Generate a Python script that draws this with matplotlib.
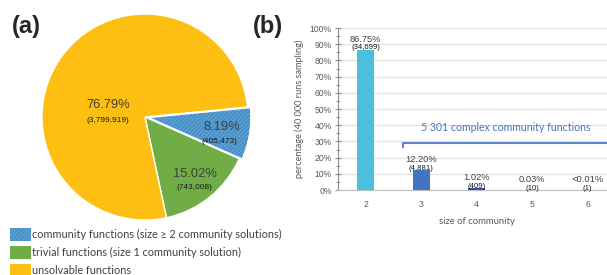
import numpy as np
import matplotlib.pyplot as plt
from matplotlib.patches import Rectangle, Wedge
from matplotlib.ticker import MultipleLocator, PercentFormatter

# ===============================================================
#  Data
# ===============================================================
# (a) pie: share of functions
pie_labels = ['community functions (size \u2265 2 community solutions)',
              'trivial functions (size 1 community solution)',
              'unsolvable functions']
pie_pct = [8.19, 15.02, 76.79]
pie_counts = ['(405,473)', '(743,008)', '(3,799,919)']
pie_colors = ['#4890c6', '#70ad47', '#fdbf12']
hatch_col = '#67aadb'

# (b) bars: size of community
sizes = [2, 3, 4, 5, 6]
bar_pct = [86.75, 12.20, 1.02, 0.03, 0.004]
bar_text = ['86.75%', '12.20%', '1.02%', '0.03%', '<0.01%']
bar_counts = ['(34,699)', '(4,881)', '(409)', '(10)', '(1)']
bar_colors = ['#4bbfdb', '#4472c4', '#2f55a0', '#b4c7e7', '#9dc3e6']
n_complex = '5 301 complex community functions'

num_font = ['Liberation Sans', 'DejaVu Sans']
txt_font = ['Lato', 'DejaVu Sans']
gray = '#595959'
plt.rcParams['hatch.linewidth'] = 0.6

fig = plt.figure(figsize=(6.07, 2.75), dpi=100)

# ===============================================================
#  (a) pie chart
# ===============================================================
ax1 = fig.add_axes([0.0522, 0.1625, 0.3733, 0.824])
wedges, _ = ax1.pie(pie_pct, colors=pie_colors, startangle=5.6, counterclock=False,
                    explode=[0.03, 0, 0], radius=1.0,
                    wedgeprops=dict(edgecolor='white', linewidth=1.0))
# fine hatch on the community wedge
w0 = wedges[0]
ax1.add_patch(Wedge(w0.center, w0.r, w0.theta1, w0.theta2, facecolor='none',
                    edgecolor=hatch_col, hatch='////////', linewidth=0))
ax1.add_patch(Wedge(w0.center, w0.r, w0.theta1, w0.theta2, facecolor='none',
                    edgecolor='white', linewidth=1.0))
ax1.set_xlim(-1.1, 1.1)
ax1.set_ylim(-1.1, 1.1)
ax1.set_aspect('equal')
ax1.axis('off')

pct_pos = [(0.75, -0.10), (0.485, -0.553), (-0.36, 0.117)]
cnt_pos = [(0.72, -0.233), (0.476, -0.68), (-0.36, -0.03)]
for i in range(len(pie_pct)):
    ax1.text(pct_pos[i][0], pct_pos[i][1], f'{pie_pct[i]:.2f}%', ha='center', va='center',
             fontsize=9.3, color='#404040', family=num_font)
    ax1.text(cnt_pos[i][0], cnt_pos[i][1], pie_counts[i], ha='center', va='center',
             fontsize=6, color='#1a1a1a', family=num_font)

# legend drawn by hand
for i in range(len(pie_labels)):
    yc = 234 + i*18
    fig.add_artist(Rectangle((10/607, 1-(yc+6.5)/275), 21/607, 13/275, transform=fig.transFigure,
                             facecolor=pie_colors[i], edgecolor=hatch_col if i == 0 else 'none',
                             hatch='////////' if i == 0 else None, linewidth=0))
    fig.text(32/607, 1-yc/275, pie_labels[i], ha='left', va='center', fontsize=7.8,
             color='#404040', family=txt_font)

fig.text(12/607, 1-27/275, '(a)', ha='left', va='center', fontsize=17, fontweight='bold',
         color='#262626', family=num_font)
fig.text(253/607, 1-27/275, '(b)', ha='left', va='center', fontsize=17, fontweight='bold',
         color='#262626', family=num_font)

# ===============================================================
#  (b) bar chart
# ===============================================================
ax2 = fig.add_axes([0.5568, 0.309, 0.457, 0.589])
vals = np.array(bar_pct)/100
ax2.bar(sizes, vals, width=0.31, color=bar_colors, zorder=3)
ax2.set_xlim(1.5, 6.5)
ax2.set_ylim(0, 1.0)
ax2.yaxis.set_major_locator(MultipleLocator(0.1))
ax2.yaxis.set_minor_locator(MultipleLocator(0.05))
ax2.yaxis.set_major_formatter(PercentFormatter(1.0, decimals=0))
ax2.set_xticks(sizes)
ax2.grid(True, axis='y', color='#e3e3e3', linewidth=0.9, zorder=0)
for s in ['top', 'right']:
    ax2.spines[s].set_visible(False)
ax2.spines['left'].set_color('#8c8c8c')
ax2.spines['bottom'].set_color('#bfbfbf')
ax2.tick_params(axis='y', which='major', direction='inout', length=5, color='#8c8c8c',
                labelsize=6.2, labelcolor=gray, pad=2)
ax2.tick_params(axis='y', which='minor', direction='inout', length=3, color='#8c8c8c')
ax2.tick_params(axis='x', length=0, labelsize=6.2, labelcolor=gray, pad=7)
for lab in ax2.get_yticklabels() + ax2.get_xticklabels():
    lab.set_family(num_font)

for i in range(len(sizes)):
    ax2.annotate(bar_text[i], (sizes[i], vals[i]), xytext=(0, 7.5), textcoords='offset points',
                 ha='center', va='center', fontsize=6.7, color='#404040', family=num_font)
    ax2.annotate(bar_counts[i], (sizes[i], vals[i]), xytext=(0, 1.2), textcoords='offset points',
                 ha='center', va='center', fontsize=5.6, color='#1a1a1a', family=num_font)

ax2.set_xlabel('size of community', fontsize=6.8, color=gray, family=txt_font, labelpad=6)
ax2.set_ylabel('percentage (40 000 runs sampling)', fontsize=6.6, color=gray, family=txt_font,
               labelpad=4)

# bracket over the complex communities
ax2.plot([2.68, 2.68, 6.6], [0.26, 0.29, 0.29], color='#5b86c8', linewidth=1.5,
         clip_on=False, zorder=4, solid_capstyle='butt')
ax2.text(4.52, 0.383, n_complex, ha='center', va='center', fontsize=7.6, color='#4472c4',
         family=txt_font)

fig.savefig('out.png', dpi=100)
